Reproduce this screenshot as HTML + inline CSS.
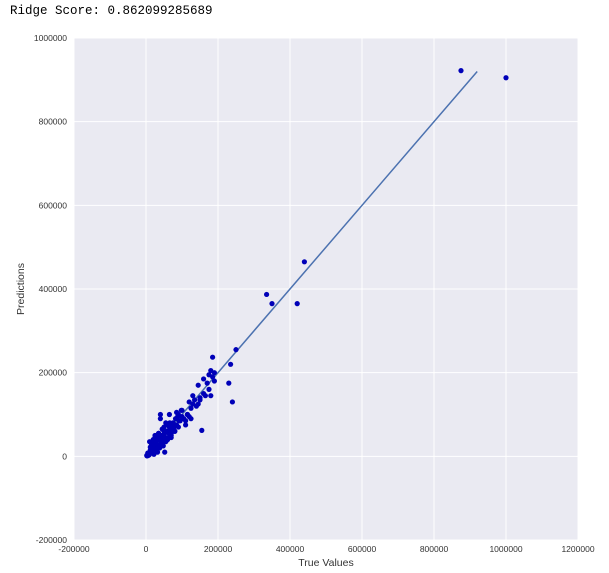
<!DOCTYPE html>
<html><head><meta charset="utf-8"><style>
body{margin:0;background:#fff;width:609px;height:573px;overflow:hidden;font-family:"Liberation Sans",sans-serif}
#title{position:absolute;left:10px;top:4px;font-family:"Liberation Mono",monospace;font-size:12.5px;color:#000}
</style></head><body>
<div id="title">Ridge Score: 0.862099285689</div>
<svg id="chart" width="609" height="573" style="position:absolute;left:0;top:0"></svg>
<script>
const xTicks=[-200000,0,200000,400000,600000,800000,1000000,1200000];
const yTicks=[-200000,0,200000,400000,600000,800000,1000000];
const fitLine=[[0,0],[920000,920000]];
const trueVals=[875000,1000000,440000,335000,350000,420000,250000,240000,230000,235000,185000,180000,175000,190000,170000,160000,150000,155000,145000,130000,120000,125000,115000,100000,110000,105000,95000,90000,85000,80000,75000,70000,65000,60000,55000,50000,45000,40000,35000,30000,25000,20000,15000,10000,5000,2000,8000,12000,18000,22000,28000,32000,38000,42000,48000,52000,58000,62000,68000,72000,78000,82000,88000,92000,98000,40000,30000,50000,45000,35000,25000,20000,60000,70000,80000,150000,140000,130000,120000,110000,100000,90000,180000,185000,160000,175000,190000,50000,60000,70000,55000,45000,65000,75000,85000,135000,145000,165000,125000,115000,3000,6000,9000,14000,16000,24000,26000,34000,36000,44000,46000,54000,56000,64000,66000,15000,25000,35000,20000,25000,30000,35000,40000,28000,32000,22000,18000,12000,10000,15000,38000,42000,48000,52000,30000,26000,20000,16000,45000,50000];
const predVals=[922000,905000,465000,387000,365000,365000,255000,130000,175000,220000,237000,205000,195000,180000,175000,150000,135000,62000,170000,145000,130000,115000,100000,110000,75000,90000,85000,100000,75000,60000,80000,55000,70000,60000,35000,45000,50000,90000,40000,20000,30000,25000,10000,5000,8000,2000,3000,15000,12000,25000,30000,20000,45000,35000,40000,55000,60000,45000,65000,75000,70000,90000,95000,85000,110000,100000,50000,60000,30000,55000,35000,15000,40000,50000,60000,140000,120000,125000,95000,85000,95000,70000,145000,190000,185000,160000,200000,70000,75000,45000,80000,65000,100000,65000,105000,135000,125000,145000,90000,100000,1000,2000,5000,10000,20000,18000,30000,25000,40000,38000,50000,45000,60000,55000,80000,20000,45000,50000,40000,50000,45000,55000,30000,15000,10000,5000,25000,22000,35000,30000,20000,35000,25000,10000,45000,40000,8000,15000,50000,45000];
const L=74,R=578,T=38,B=540;
const xmin=-200000,xmax=1200000,ymin=-200000,ymax=1000000;
const sx=v=>L+(v-xmin)/(xmax-xmin)*(R-L);
const sy=v=>B-(v-ymin)/(ymax-ymin)*(B-T);
const svg=document.getElementById('chart');const NS='http://www.w3.org/2000/svg';
function mk(t,a){const e=document.createElementNS(NS,t);for(const k in a)e.setAttribute(k,a[k]);svg.appendChild(e);return e;}
let bg=mk('rect',{x:L,y:T,width:R-L,height:B-T,fill:'#eaeaf2'});


xTicks.forEach(v=>{const g=mk('line',{x1:sx(v),x2:sx(v),y1:T,y2:B,stroke:'#fff','stroke-width':1});


const t=mk('text',{x:sx(v),y:B+12,'text-anchor':'middle','font-size':8.5,fill:'#333'});t.textContent=v;

});
yTicks.forEach(v=>{const g=mk('line',{x1:L,x2:R,y1:sy(v),y2:sy(v),stroke:'#fff','stroke-width':1});


const t=mk('text',{x:L-7,y:sy(v)+3,'text-anchor':'end','font-size':8.5,fill:'#333'});t.textContent=v;

});
const ln=mk('line',{x1:sx(fitLine[0][0]),y1:sy(fitLine[0][1]),x2:sx(fitLine[1][0]),y2:sy(fitLine[1][1]),stroke:'#4c72b0','stroke-width':1.5});


trueVals.forEach((v,i)=>{const c=mk('circle',{cx:sx(v),cy:sy(predVals[i]),r:2.6,fill:'#0000b8'});

});
const xl=mk('text',{x:(L+R)/2,y:566,'text-anchor':'middle','font-size':10.5,fill:'#333'});xl.textContent='True Values';


const yl=mk('text',{x:0,y:0,'text-anchor':'middle','font-size':10.5,fill:'#333',transform:`translate(24,${(T+B)/2}) rotate(-90)`});yl.textContent='Predictions';


</script></body></html>
